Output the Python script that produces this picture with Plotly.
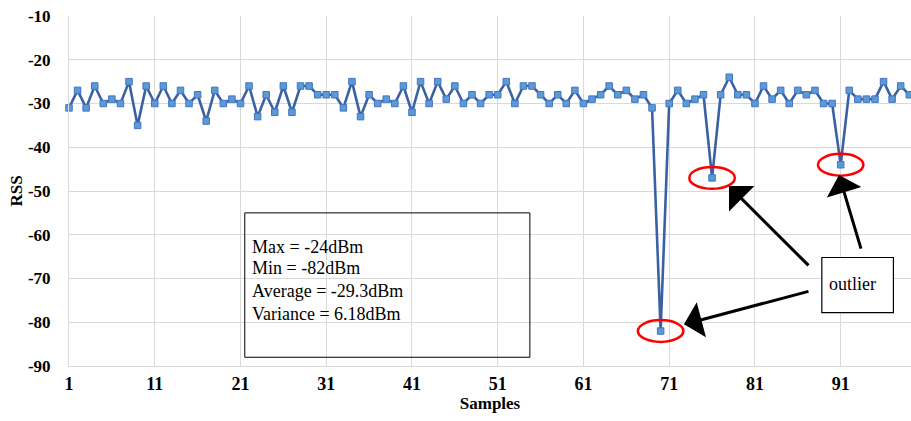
import plotly.graph_objects as go

samples = list(range(1, 101))
rss = [-31, -27, -31, -26, -30, -29, -30, -25, -35, -26,
       -30, -26, -30, -27, -30, -28, -34, -27, -30, -29,
       -30, -26, -33, -28, -32, -26, -32, -26, -26, -28,
       -28, -28, -31, -25, -33, -28, -30, -29, -30, -26,
       -32, -25, -30, -25, -29, -26, -30, -28, -30, -28,
       -28, -25, -30, -26, -26, -28, -30, -28, -30, -27,
       -30, -29, -28, -26, -28, -27, -29, -28, -31, -82,
       -30, -27, -30, -29, -28, -47, -28, -24, -28, -28,
       -30, -26, -29, -27, -30, -27, -28, -27, -30, -30,
       -44, -27, -29, -29, -29, -25, -29, -26, -28, -27]
x_ticks = [1, 11, 21, 31, 41, 51, 61, 71, 81, 91]
y_ticks = [-10, -20, -30, -40, -50, -60, -70, -80, -90]
y_tick_labels = ["-10", "-20", "-30", "-40", "-50", "-60", "-70", "-80", "-90"]
stats_lines = ["Max = -24dBm", "Min = -82dBm", "Average = -29.3dBm", "Variance = 6.18dBm"]
outlier_label = "outlier"

SERIF = "Liberation Serif"
GRID = "#d9d9d9"

fig = go.Figure()
fig.add_trace(go.Scatter(
    x=samples, y=rss, mode="lines+markers",
    line=dict(color="#3a62a3", width=2.6),
    marker=dict(symbol="square", size=6.5, color="#5b9bd5",
                line=dict(color="#4472c4", width=1)),
    cliponaxis=False, showlegend=False,
))

# red ellipses around outliers
for s, v in zip(samples, rss):
    if v < -40:
        fig.add_shape(type="circle", xref="x", yref="y",
                      x0=s - 2.65, x1=s + 2.65, y0=v - 2.5, y1=v + 2.5,
                      line=dict(color="#ff0000", width=2.5))

# stats box
fig.add_shape(type="rect", xref="x", yref="y", x0=21.5, x1=54.75, y0=-88.0, y1=-55.0,
              line=dict(color="#000000", width=1), fillcolor="rgba(255,255,255,0)")
for t, yc in zip(stats_lines, [-62.7, -67.65, -72.9, -78.0]):
    fig.add_annotation(x=22.1, y=yc, xref="x", yref="y", text=t, showarrow=False,
                       xanchor="left", yanchor="middle",
                       font=dict(family=SERIF, size=18, color="#000000"))

# outlier label box
fig.add_shape(type="rect", xref="x", yref="y", x0=88.8, x1=97.15, y0=-77.8, y1=-65.2,
              line=dict(color="#000000", width=1.2), fillcolor="#ffffff")
fig.add_annotation(x=89.45, y=-71.3, xref="x", yref="y", text=outlier_label, showarrow=False,
                   xanchor="left", yanchor="middle",
                   font=dict(family=SERIF, size=18, color="#000000"))

# arrows
arrows = [((87.42, -67.35), (77.97, -48.87)),
          ((93.42, -63.53), (90.80, -46.35)),
          ((87.42, -72.85), (72.72, -80.48))]
for (tx, ty), (hx, hy) in arrows:
    fig.add_annotation(x=hx, y=hy, ax=tx, ay=ty, xref="x", yref="y", axref="x", ayref="y",
                       text="", showarrow=True, arrowhead=1, arrowsize=2, arrowwidth=3,
                       arrowcolor="#000000")

fig.update_layout(
    width=911, height=421,
    margin=dict(l=69, r=0, t=16, b=55),
    paper_bgcolor="#ffffff", plot_bgcolor="#ffffff",
    font=dict(family=SERIF, color="#000000"),
    xaxis=dict(range=[1, 99.2], tickvals=x_ticks, showgrid=True, gridcolor=GRID, gridwidth=1,
               zeroline=False, showline=True, linecolor=GRID, linewidth=1, automargin=False,
               ticks="outside", ticklen=1, tickcolor="rgba(0,0,0,0)",
               tickfont=dict(family=SERIF, size=18, weight="bold"),
               title=dict(text="Samples", font=dict(family=SERIF, size=17, weight="bold"), standoff=4)),
    yaxis=dict(range=[-90, -10], tickvals=y_ticks, ticktext=y_tick_labels,
               showgrid=True, gridcolor=GRID, gridwidth=1,
               zeroline=False, showline=True, linecolor=GRID, linewidth=1, automargin=False,
               ticks="outside", ticklen=14, tickcolor="rgba(0,0,0,0)",
               tickfont=dict(family=SERIF, size=17, weight="bold"),
               title=dict(text="RSS", font=dict(family=SERIF, size=17, weight="bold"), standoff=0)),
)

fig.write_html("out.html", config={"displayModeBar": False},
               post_script="document.body.style.margin='0';")
